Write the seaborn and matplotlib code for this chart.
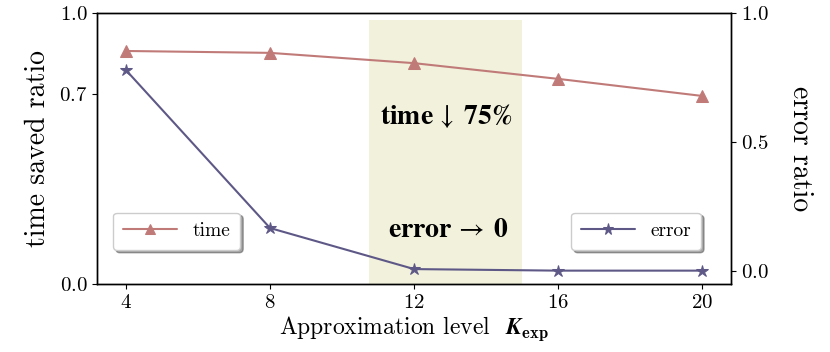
import matplotlib
matplotlib.use("Agg")
import matplotlib.pyplot as plt
import seaborn as sns
import pandas as pd

k_levels = [4, 8, 12, 16, 20]
time_saved = [0.86, 0.853, 0.815, 0.757, 0.694]
error_ratio = [0.779, 0.167, 0.008, 0.002, 0.002]

left_ticks = [0.0, 0.7, 1.0]
right_ticks = [0.0, 0.5, 1.0]

time_color = "#c07b79"
error_color = "#5e5887"
shade_color = "#f2f1dc"

sns.set_style("ticks")
plt.rcParams["font.family"] = ["serif"]
plt.rcParams["font.serif"] = ["cmr10", "DejaVu Serif"]
plt.rcParams["mathtext.fontset"] = "cm"
plt.rcParams["axes.formatter.use_mathtext"] = True
plt.rcParams["axes.unicode_minus"] = False
for key in ("text.color", "axes.labelcolor", "xtick.color", "ytick.color", "axes.edgecolor"):
    plt.rcParams[key] = "black"

df = pd.DataFrame({"K": k_levels, "time": time_saved, "error": error_ratio})

fig = plt.figure(figsize=(8.3, 3.52), dpi=100)
ax = fig.add_axes([0.117, 0.193, 0.764, 0.77])
ax2 = ax.twinx()

ax.axvspan(10.75, 15.0, ymin=0, ymax=0.975, color=shade_color, zorder=0, lw=0)

sns.lineplot(data=df, x="K", y="time", ax=ax, color=time_color, marker="^",
             markersize=8, markeredgecolor=time_color, lw=1.5, label="time")
sns.lineplot(data=df, x="K", y="error", ax=ax2, color=error_color, marker="*",
             markersize=9, markeredgecolor=error_color, lw=1.5, label="error")

ax.set_xlim(3.2, 20.8)
ax.set_ylim(0.0, 1.0)
ax2.set_ylim(-0.05, 1.0)
ax.set_xticks(k_levels)
ax.set_yticks(left_ticks)
ax2.set_yticks(right_ticks)
ax.tick_params(labelsize=15)
ax2.tick_params(labelsize=15)

ax.set_xlabel(r"Approximation level  $\boldsymbol{K}_{\mathbf{exp}}$", fontsize=17, labelpad=2)
ax.set_ylabel("time saved ratio", fontsize=20, labelpad=6)
ax2.set_ylabel("error ratio", fontsize=20, rotation=270, labelpad=32)

for a in (ax, ax2):
    for s in a.spines.values():
        s.set_visible(True)
        s.set_color("black")
        s.set_linewidth(1.0)

leg_kw = dict(fontsize=14, shadow=True, fancybox=True, framealpha=1,
              edgecolor="#cccccc", handlelength=2.8, borderpad=0.5, markerscale=0.9)
ax.legend(loc="lower left", bbox_to_anchor=(0.01, 0.09), **leg_kw)
ax2.legend(loc="lower right", bbox_to_anchor=(0.968, 0.09), **leg_kw)

ax.text(12.9, 0.62, r"$\mathbf{time}\,\downarrow\;\mathbf{75\%}$", fontsize=20,
        math_fontfamily="stix", ha="center", va="center")
ax.text(12.95, 0.2, r"$\mathbf{error}\,\rightarrow\;\mathbf{0}$", fontsize=20,
        math_fontfamily="stix", ha="center", va="center")

fig.savefig("out.png", dpi=100)
